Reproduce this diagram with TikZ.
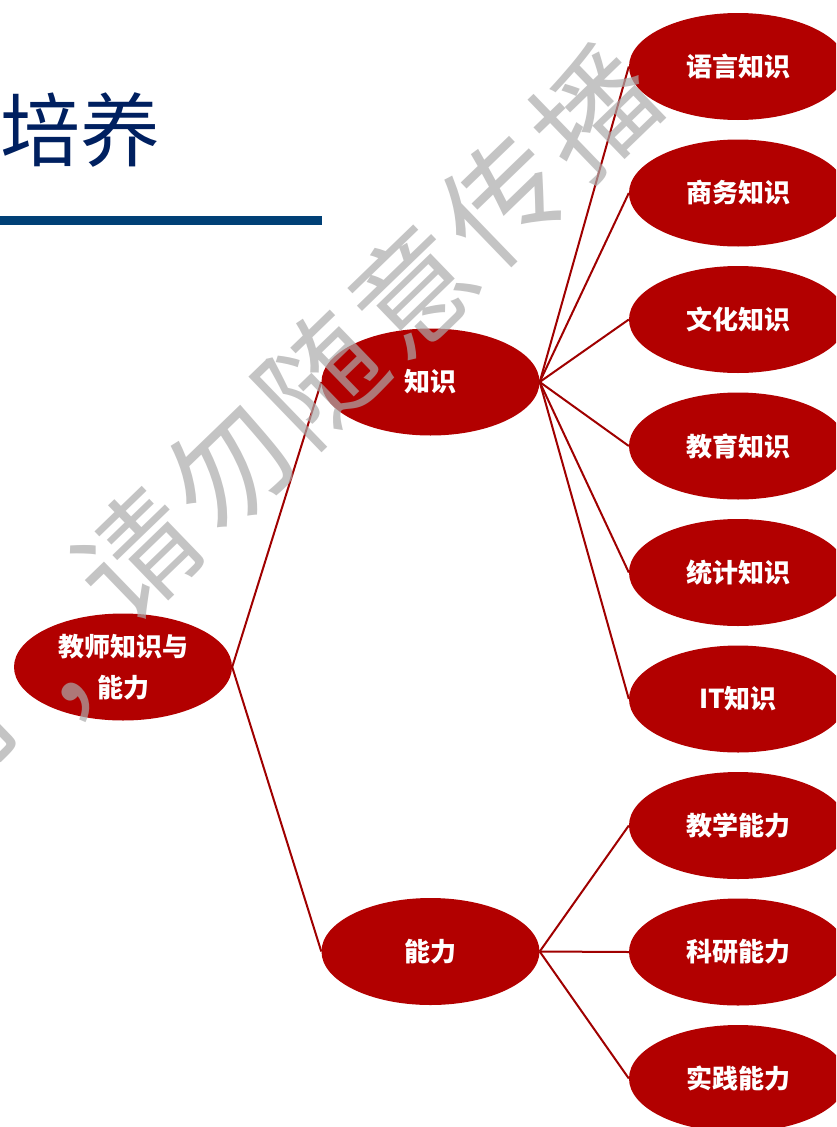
\documentclass[tikz,border=0pt]{standalone}
\usepackage{fontspec}
\setmainfont{Noto Sans CJK SC}
\usetikzlibrary{shapes.geometric}
\definecolor{nodered}{RGB}{178,0,0}
\definecolor{linkred}{RGB}{160,0,0}
\definecolor{titleblue}{RGB}{0,32,96}
\definecolor{barblue}{RGB}{0,64,118}
\definecolor{wmgray}{RGB}{171,171,171}
\begin{document}
\begin{tikzpicture}[x=1pt,y=-1pt,
  bubble/.style={ellipse, fill=nodered, draw=none, minimum width=218pt, minimum height=107pt,
    inner sep=0pt, text=white, font=\bfseries\fontsize{26}{41}\selectfont, align=center},
  link/.style={draw=linkred, line width=2pt},
  wm/.style={text=wmgray, text opacity=0.7, font=\fontsize{120}{120}\selectfont, rotate=44, inner sep=0pt}]
\useasboundingbox (0,0) rectangle (836,1127);
\clip (0,0) rectangle (836,1127);
\fill[white] (0,0) rectangle (836,1127);

% title
\node[anchor=west, inner sep=0pt, text=titleblue, font=\fontsize{80}{80}\selectfont] (title) at (0,130) {培养};
\fill[barblue] (0,216) rectangle (322,225);

% nodes
\node[bubble] (root) at (123,667) {教师知识与\\能力};
\node[bubble] (zs) at (430.5,382) {知识};
\node[bubble] (nl) at (430.5,951.5) {能力};

\node[bubble] (k1) at (738,66.5) {语言知识};
\node[bubble] (k2) at (738,193) {商务知识};
\node[bubble] (k3) at (738,319.5) {文化知识};
\node[bubble] (k4) at (738,446) {教育知识};
\node[bubble] (k5) at (738,572.5) {统计知识};
\node[bubble] (k6) at (738,699) {IT知识};
\node[bubble] (a1) at (738,825.5) {教学能力};
\node[bubble] (a2) at (738,952) {科研能力};
\node[bubble] (a3) at (738,1078.5) {实践能力};

% connectors
\draw[link] (root.east) -- (zs.west);
\draw[link] (root.east) -- (nl.west);
\foreach \k in {k1,k2,k3,k4,k5,k6} {\draw[link] (zs.east) -- (\k.west);}
\foreach \k in {a1,a2,a3} {\draw[link] (nl.east) -- (\k.west);}

% watermark
\node[wm] (w0) at (-46.2,732.2) {有};
\node[wm] (w1) at (101,679) {，};
\node[wm] (w2) at (137,555) {请};
\node[wm] (w3) at (228.6,466.4) {勿};
\node[wm] (w4) at (320.2,377.8) {随};
\node[wm] (w5) at (411.8,289.2) {意};
\node[wm] (w6) at (503.4,200.6) {传};
\node[wm] (w7) at (595,112) {播};
\end{tikzpicture}
\end{document}
